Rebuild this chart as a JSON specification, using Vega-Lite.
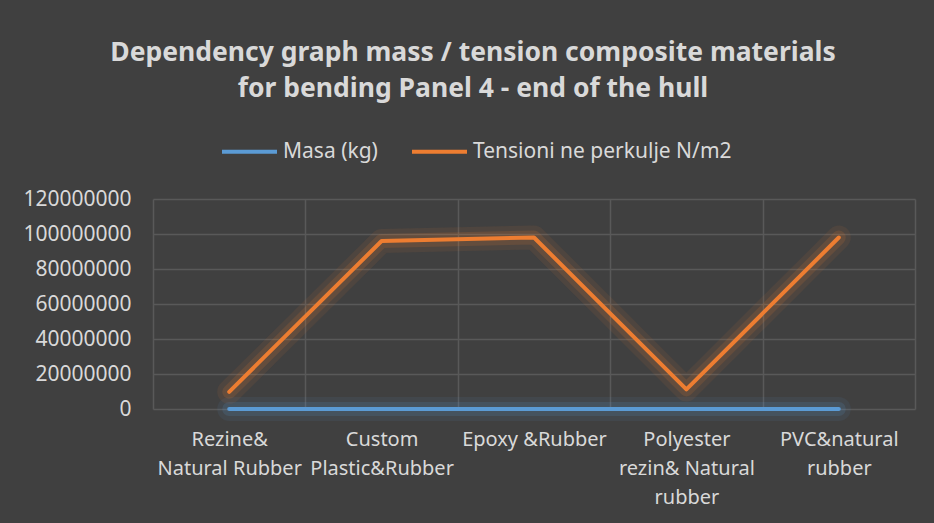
{
  "$schema": "https://vega.github.io/schema/vega-lite/v6.json",
  "autosize": "none",
  "width": 762,
  "height": 210,
  "padding": {"left": 153, "top": 199, "right": 19, "bottom": 114},
  "background": "#404040",
  "title": {
    "text": ["Dependency graph mass / tension composite materials", "for bending Panel 4 - end of the hull"],
    "anchor": "middle",
    "frame": "group",
    "dx": -61,
    "offset": 20,
    "fontSize": 26.5,
    "lineHeight": 36,
    "font": "Noto Sans",
    "fontWeight": "bold",
    "color": "#d9d9d9"
  },
  "data": {
    "values": [
      {"material": "Rezine& Natural Rubber", "series": "Masa (kg)", "value": 30},
      {"material": "Custom Plastic&Rubber", "series": "Masa (kg)", "value": 30},
      {"material": "Epoxy &Rubber", "series": "Masa (kg)", "value": 30},
      {"material": "Polyester rezin& Natural rubber", "series": "Masa (kg)", "value": 30},
      {"material": "PVC&natural rubber", "series": "Masa (kg)", "value": 30},
      {"material": "Rezine& Natural Rubber", "series": "Tensioni ne perkulje N/m2", "value": 9800000},
      {"material": "Custom Plastic&Rubber", "series": "Tensioni ne perkulje N/m2", "value": 96000000},
      {"material": "Epoxy &Rubber", "series": "Tensioni ne perkulje N/m2", "value": 98000000},
      {"material": "Polyester rezin& Natural rubber", "series": "Tensioni ne perkulje N/m2", "value": 11200000},
      {"material": "PVC&natural rubber", "series": "Tensioni ne perkulje N/m2", "value": 98000000}
    ]
  },
  "encoding": {
    "x": {
      "field": "material",
      "type": "nominal",
      "sort": null,
      "scale": {"paddingInner": 0, "paddingOuter": 0},
      "axis": {
        "title": null,
        "labelAngle": 0,
        "labelExpr": "datum.value == 'Rezine& Natural Rubber' ? ['Rezine&', 'Natural Rubber'] : datum.value == 'Custom Plastic&Rubber' ? ['Custom', 'Plastic&Rubber'] : datum.value == 'Polyester rezin& Natural rubber' ? ['Polyester', 'rezin& Natural', 'rubber'] : datum.value == 'PVC&natural rubber' ? ['PVC&natural', 'rubber'] : datum.value",
        "labelFont": "Noto Sans",
        "labelFontSize": 20,
        "labelColor": "#d9d9d9",
        "labelLineHeight": 29,
        "labelPadding": 20,
        "labelBaseline": "top",
        "labelLimit": 300,
        "labelOverlap": false,
        "ticks": false,
        "domain": false,
        "grid": true,
        "tickBand": "extent",
        "gridColor": "#595959",
        "gridWidth": 1.5
      }
    },
    "y": {
      "field": "value",
      "type": "quantitative",
      "scale": {"domain": [0, 120000000]},
      "axis": {
        "title": null,
        "values": [0, 20000000, 40000000, 60000000, 80000000, 100000000, 120000000],
        "format": "d",
        "labelFont": "Noto Sans",
        "labelFontSize": 21,
        "labelColor": "#d9d9d9",
        "labelPadding": 22,
        "ticks": false,
        "domain": false,
        "grid": true,
        "gridColor": "#595959",
        "gridWidth": 1.5
      }
    },
    "color": {
      "field": "series",
      "type": "nominal",
      "scale": {"domain": ["Masa (kg)", "Tensioni ne perkulje N/m2"], "range": ["#5b9bd5", "#ed7d31"]},
      "legend": {
        "title": null,
        "orient": "none",
        "direction": "horizontal",
        "legendX": 67,
        "legendY": -77,
        "symbolType": "stroke",
        "symbolSize": 3025,
        "symbolStrokeWidth": 4,
        "symbolOpacity": 1,
        "labelFont": "Noto Sans",
        "labelFontSize": 21,
        "labelColor": "#d9d9d9",
        "labelOffset": 4,
        "columnPadding": 26,
        "labelLimit": 400
      }
    }
  },
  "layer": [
    {
      "mark": {"type": "line", "strokeWidth": 24, "strokeCap": "round", "strokeJoin": "round", "opacity": 0.08}
    },
    {
      "mark": {"type": "line", "strokeWidth": 14, "strokeCap": "round", "strokeJoin": "round", "opacity": 0.14}
    },
    {
      "mark": {"type": "line", "strokeWidth": 4, "strokeCap": "round", "strokeJoin": "round"}
    }
  ],
  "config": {"view": {"stroke": null}}
}
